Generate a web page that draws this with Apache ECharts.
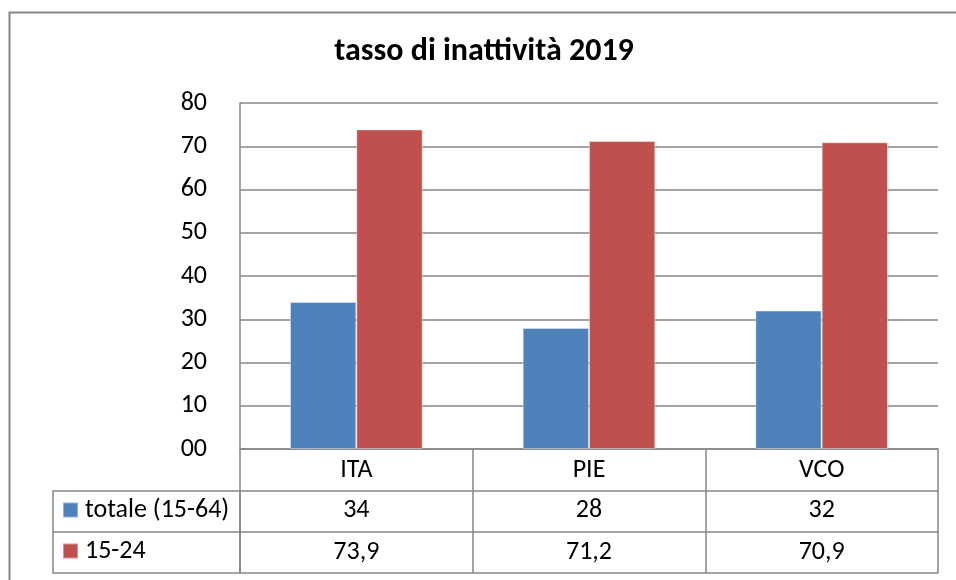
<!DOCTYPE html>
<html>
<head>
<meta charset="utf-8">
<script src="https://cdn.jsdelivr.net/npm/echarts@6/dist/echarts.min.js"></script>
<style>
  html, body { margin: 0; padding: 0; background: #fff; }
  #chart { width: 956px; height: 580px; }
</style>
</head>
<body>
<div id="chart"></div>
<script>
// dati
var categorie = ['ITA', 'PIE', 'VCO']
var totale = [34, 28, 32]          // totale (15-64)
var giovani = [73.9, 71.2, 70.9]   // 15-24
var serie = ['totale (15-64)', '15-24']

var grigio = '#868686'
var font = 'Carlito, "Open Sans", sans-serif'
var fs = 26

// 73.9 -> "73,9"
function fmt (v) {
  return String(v).replace('.', ',')
}

var chart = echarts.init(document.getElementById('chart'))

chart.setOption({
  backgroundColor: '#fff',
  animation: false,
  textStyle: { fontFamily: font },
  title: {
    text: 'tasso di inattività 2019',
    left: 479,
    top: 31,
    textAlign: 'center',
    textStyle: { fontFamily: font, fontSize: 32, fontWeight: 'bold', color: '#000' }
  },
  legend: {
    orient: 'vertical',
    left: 62,
    top: 497,
    padding: 0,
    itemWidth: 15,
    itemHeight: 15,
    itemGap: 15,
    icon: 'rect',
    selectedMode: false,
    data: serie,
    textStyle: { fontFamily: font, fontSize: fs, lineHeight: 26, color: '#000', padding: [0, 0, 0, 2] }
  },
  grid: {
    left: 240,
    right: 18,
    top: 103,
    bottom: 131
  },
  xAxis: [{
    // intestazione tabella (categorie) + linee verticali
    type: 'category',
    data: categorie,
    position: 'bottom',
    axisLine: { onZero: false, lineStyle: { color: grigio, width: 1.5 } },
    axisTick: { show: true, length: 124, lineStyle: { color: grigio, width: 1.5 } },
    axisLabel: { margin: 8, fontSize: fs, color: '#000', fontFamily: font }
  }, {
    // riga totale (15-64)
    type: 'category',
    data: categorie,
    position: 'bottom',
    offset: 42,
    axisLine: { onZero: false, lineStyle: { color: grigio, width: 1.5 } },
    axisTick: { show: false },
    axisLabel: {
      margin: 6, fontSize: fs, color: '#000', fontFamily: font,
      formatter: function (v, i) { return fmt(totale[i]) }
    }
  }, {
    // riga 15-24
    type: 'category',
    data: categorie,
    position: 'bottom',
    offset: 83,
    axisLine: { onZero: false, lineStyle: { color: grigio, width: 1.5 } },
    axisTick: { show: false },
    axisLabel: {
      margin: 7, fontSize: fs, color: '#000', fontFamily: font,
      formatter: function (v, i) { return fmt(giovani[i]) }
    }
  }, {
    // bordo inferiore tabella
    type: 'category',
    data: categorie,
    position: 'bottom',
    offset: 124,
    axisLine: { onZero: false, lineStyle: { color: grigio, width: 1.5 } },
    axisTick: { show: false },
    axisLabel: { show: false }
  }],
  yAxis: {
    type: 'value',
    min: 0,
    max: 80,
    interval: 10,
    axisLine: { show: true, lineStyle: { color: grigio, width: 1.5 } },
    axisTick: { show: false },
    axisLabel: {
      margin: 33, fontSize: fs, color: '#000', fontFamily: font,
      formatter: function (v) { return v === 0 ? '00' : v }
    },
    splitLine: { show: true, lineStyle: { color: grigio, width: 1.5 } }
  },
  series: [{
    name: serie[0],
    type: 'bar',
    data: totale,
    barGap: '0%',
    barCategoryGap: '43%',
    itemStyle: { color: '#4F81BD', borderColor: 'rgba(255,255,255,0.4)', borderWidth: 1 }
  }, {
    name: serie[1],
    type: 'bar',
    data: giovani,
    itemStyle: { color: '#C0504D', borderColor: 'rgba(255,255,255,0.4)', borderWidth: 1 }
  }],
  graphic: [{
    // cornice del grafico
    type: 'rect',
    left: 7,
    top: 10,
    shape: { width: 1000, height: 700 },
    style: { fill: null, stroke: grigio, lineWidth: 2 },
    silent: true
  }, {
    // colonna legenda della tabella
    type: 'rect',
    shape: { x: 53, y: 491, width: 187, height: 82 },
    style: { fill: null, stroke: grigio, lineWidth: 1.5 },
    silent: true
  }, {
    type: 'line',
    shape: { x1: 53, y1: 532, x2: 240, y2: 532 },
    style: { stroke: grigio, lineWidth: 1.5 },
    silent: true
  }]
})

window.onresize = function () {
  chart.resize()
}
</script>
</body>
</html>
